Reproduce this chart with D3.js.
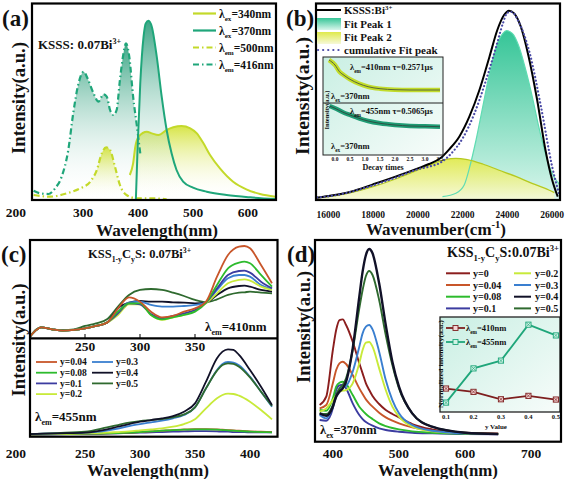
<!DOCTYPE html>
<html><head><meta charset="utf-8">
<script src="https://cdn.jsdelivr.net/npm/d3@7/dist/d3.min.js"></script>
<style>
body{margin:0;background:#fff;}
svg text{font-family:"Liberation Serif","Times New Roman",serif;font-weight:bold;fill:#111;}
</style></head><body>
<svg id="fig" width="567" height="479"></svg>
<script>
// ---------------- data: panel (a) ----------------
const aTicks=[200,300,400,500,600];
const aEx340Nm=[385,391,395,401,416,425,437,452,464,479,495,507,519,531,549,573,597,622,650];
const aEx340I=[75,110,160,190,205,200,195,210,218,222,215,200,170,135,95,55,32,18,10];
const aEx370Nm=[396,399,404,410,414,419,425,434,443,452,461,470,482,500,525,561,604,651];
const aEx370I=[0,150,350,490,530,538,520,430,310,210,140,90,55,37,25,15,8,3];
const aEm500Nm=[210,240,270,295,313,325,334,342,349,358,367,379,398,428,452];
const aEm500I=[15,10,20,35,55,90,140,158,150,100,45,15,5,5,2];
const aEm416Nm=[210,222,237,249,261,273,282,291,301,308,319,328,337,343,349,355,361,367,373,378,384,391,398,404];
const aEm416I=[28,20,18,35,70,150,260,345,385,365,320,295,317,310,270,255,270,360,435,470,430,310,220,140];
const aLegend=[["ex","340nm"],["ex","370nm"],["em","500nm"],["em","416nm"]];

// ---------------- data: panel (b) ----------------
const bTicks=[16000,18000,20000,22000,24000,26000];
const bExpWn=[15500,16000,17000,18000,19000,20000,20500,21000,21400,21850,22300,22750,23200,23550,23850,24070,24300,24600,24950,25330,25700,26000,26250];
const bExpI=[7,12,25,47,70,95,108,125,152,190,250,330,430,510,555,568,560,520,430,300,150,60,10];
const bFit1Wn=[21100,21700,22070,22300,22600,22900,23200,23500,23800,23960,24220,24520,24820,25110,25400,25700,26000,26350];
const bFit1I=[10,20,45,95,180,280,380,460,500,508,500,460,390,310,220,140,80,45];
const bFit2Wn=[15500,16000,17000,18000,19000,20000,20700,21250,21700,22150,22900,23600,24400,25100,25850,26100];
const bFit2I=[8,10,22,40,63,90,110,122,125,122,108,90,70,50,30,22];
const bCumWn=[15500,16000,17000,18000,19000,20000,20500,21000,21500,22000,22500,23000,23500,23800,24000,24200,24500,25000,25500,26000,26300];
const bCumI=[8,11,24,44,67,92,100,112,140,185,255,350,460,530,562,564,535,440,280,100,20];
const bLegend=["KSSS:Bi","Fit Peak 1","Fit Peak 2","cumulative Fit peak"];
// inset decay
const bInsetTicks=[0,0.5,1,1.5,2,2.5,3,3.5];
const bDecT1=[-0.2,0,0.15,0.3,0.5,0.8,1.1,1.5,2.0,2.5,3.0,3.5];
const bDec410=[43,38,31.3,27.7,23.7,19.3,16.3,14.3,13.3,13,13,13];
const bDecT2=[-0.18,0,0.3,0.5,0.8,1.1,1.5,2.0,2.5,3.0,3.5];
const bDec455=[49,46.7,42.3,40,36.7,34,31.7,30,29,28.7,28.3];

// ---------------- data: panel (c) ----------------
const cTicks=[200,250,300,350,400];
const cTopTicks=[250,300,350];
const cTopNm=[200,205,210,220,230,240,250,260,270,280,290,300,310,320,330,340,350,360,370,380,390,395,400,410,420];
const cTop004=[5,23,33,27,23,25,30,37,47,90,123,110,80,63,67,80,90,110,185,250,275,277,270,220,165];
const cTop008=[5,23,33,27,23,25,30,37,47,80,105,105,70,57,63,70,80,107,160,210,227,230,225,190,155];
const cTop01 =[5,23,33,27,23,25,30,37,47,75,105,102,73,60,67,75,85,107,150,190,202,203,197,170,150];
const cTop02 =[5,23,33,27,23,25,30,37,47,70,102,102,70,55,63,70,83,105,135,165,175,177,173,155,145];
const cTop03 =[5,23,33,27,23,25,30,37,47,80,107,110,100,95,95,97,100,107,145,180,190,190,185,160,147];
const cTop04 =[5,23,33,27,23,25,30,37,47,90,107,112,110,110,108,107,105,107,130,150,157,158,155,145,140];
const cTop05 =[5,25,33,27,25,27,37,45,57,95,130,145,148,145,137,127,115,108,117,130,137,138,140,137,135];
const cBotNm=[200,225,250,270,280,290,300,310,320,330,340,350,360,370,375,380,385,390,400,410,420];
const cBot004=[7,8,9,10,11,12,14,16,18,20,22,23,23,22,21,20,19,18,16,15,14];
const cBot008=[7,8,9,10,11,12,14,16,18,20,21,22,22,21,20,19,18,17,15,14,13];
const cBot01 =[6,7,8,9,10,11,12,13,14,15,16,17,17,16,15,15,14,14,13,13,13];
const cBot02 =[7,8,10,12,14,16,19,22,25,30,38,52,85,115,125,129,128,123,105,80,52];
const cBot03 =[8,10,12,18,24,32,38,43,48,55,65,88,145,200,218,224,222,214,180,135,90];
const cBot04 =[8,10,12,22,30,38,45,50,55,62,75,100,165,235,255,262,260,245,200,150,95];
const cBot05 =[8,11,15,28,35,42,47,50,53,58,67,88,145,198,215,220,218,210,178,135,92];
const cLegend=["0.04","0.08","0.1","0.2","0.3","0.4","0.5"];

// ---------------- data: panel (d) ----------------
const dTicks=[400,500,600,700];
const dNm=[380,390,400,405,410,415,420,430,440,445,450,455,460,470,480,490,500,520,550,600,650];
const dY0  =[110,135,275,335,365,367,350,300,235,205,175,155,137,113,95,83,73,53,37,27,24];
const dY004=[100,110,175,215,235,240,233,200,160,143,127,115,105,87,73,63,55,43,33,26,24];
const dY008=[95,93,130,165,177,180,173,140,105,93,83,75,68,55,47,41,37,31,27,24,23];
const dY01 =[65,63,100,155,169,171,160,115,80,68,59,53,48,40,35,32,30,27,25,23,22];
const dY02 =[90,100,125,140,150,153,155,175,235,275,297,299,285,220,155,105,75,45,31,25,23];
const dY03 =[80,70,105,135,155,163,167,210,285,325,345,350,337,270,185,125,85,50,33,25,23];
const dY04 =[85,78,105,135,150,160,180,280,435,510,560,578,565,475,350,240,165,85,45,27,23];
const dY05 =[85,83,110,140,160,170,190,275,400,455,497,512,500,425,320,230,160,85,45,27,23];
const dLegend=["0","0.04","0.08","0.1","0.2","0.3","0.4","0.5"];
const dInsetY=[0.1,0.2,0.3,0.4,0.5];
const dInset410=[0.247,0.212,0.134,0.170,0.131];
const dInset455=[0.099,0.459,0.541,0.919,0.806];

// ---------------- colours ----------------
const TEAL="#1fa67a", YEL="#c3d92a";
const SC={"0":"#8b1e1e","0.04":"#c8562a","0.08":"#2dbb2d","0.1":"#3c3ca0","0.2":"#c8ea3a","0.3":"#3a7fd0","0.4":"#111128","0.5":"#2f6a2f"};

// ---------------- helpers ----------------
const svg=d3.select('#fig');
const defs=svg.append('defs');
const P=(xs,ys)=>xs.map((x,i)=>[x,ys[i]]);
function grad(id,stops,x2=0,y2=1){const g=defs.append('linearGradient').attr('id',id).attr('x1',0).attr('y1',0).attr('x2',x2).attr('y2',y2);stops.forEach(s=>g.append('stop').attr('offset',s[0]).attr('stop-color',s[1]).attr('stop-opacity',s[2]===undefined?1:s[2]));}
function clip(id,x,y,w,h){defs.append('clipPath').attr('id',id).append('rect').attr('x',x).attr('y',y).attr('width',w).attr('height',h);}
function rich(g,x,y,parts,size,anchor){
  const t=g.append('text').attr('x',x).attr('y',y).attr('font-size',size).attr('text-anchor',anchor||'start');
  let off=0;
  parts.forEach(p=>{
    const s=Array.isArray(p)?p[0]:p, m=Array.isArray(p)?p[1]:'n';
    const target=m==='sub'?size*0.32:(m==='sup'?-size*0.4:0);
    t.append('tspan').text(s).attr('dy',(target-off).toFixed(2)).attr('font-size',m==='n'?size:size*0.62);
    off=target;
  });
  return t;
}
function ytitle(x,y,len,size){svg.append('text').attr('transform',`translate(${x},${y}) rotate(-90)`).attr('text-anchor','middle').attr('font-size',size).attr('textLength',len).attr('lengthAdjust','spacingAndGlyphs').text('Intensity(a.u.)');}
function xtitle(x,y,len,size){svg.append('text').attr('x',x).attr('y',y).attr('text-anchor','middle').attr('font-size',size).attr('textLength',len).attr('lengthAdjust','spacingAndGlyphs').text('Wavelength(nm)');}
function frame(x,y,w,h){svg.append('rect').attr('x',x).attr('y',y).attr('width',w).attr('height',h).attr('fill','none').attr('stroke','#000').attr('stroke-width',2.2);}
function ticksLbl(ticks,xs,y,size,firstLeft){
  ticks.forEach((t,i)=>{
    const txt=svg.append('text').attr('y',y).attr('font-size',size).text(t);
    if(i===0&&firstLeft!==undefined){txt.attr('x',firstLeft).attr('text-anchor','end');}
    else txt.attr('x',xs(t)).attr('text-anchor','middle');
  });
}

grad('gTeal',[['0%','#1a9670',0.85],['100%','#ffffff',0]]);
grad('gYel',[['0%','#d0e028',0.85],['100%','#ffffff',0]]);
grad('gTealB',[['0%','#35c597',1],['100%','#d9f6ec',1]]);
grad('gYelB',[['0%','#dfe94a',1],['100%','#f6f9d8',1]]);
grad('gMint',[['0%','#c9efe3',1],['100%','#f7fcfa',1]],1,1);

// =================== PANEL (a) ===================
{
const xA=d3.scaleLinear([207,651],[32,276]);
const yA=d3.scaleLinear([0,588],[200,4]);
clip('clipA',32,4,244,196);
const pa=svg.append('g').attr('clip-path','url(#clipA)');
const area=d3.area().x(d=>xA(d[0])).y0(yA(0)).y1(d=>yA(d[1])).curve(d3.curveMonotoneX);
const line=d3.line().x(d=>xA(d[0])).y(d=>yA(d[1])).curve(d3.curveMonotoneX);
pa.append('path').attr('d',area(P(aEm416Nm,aEm416I))).attr('fill','url(#gTeal)');
pa.append('path').attr('d',area(P(aEm500Nm,aEm500I))).attr('fill','url(#gYel)');
pa.append('path').attr('d',area(P(aEx340Nm,aEx340I))).attr('fill','url(#gYel)');
pa.append('path').attr('d',area(P(aEx370Nm,aEx370I))).attr('fill','url(#gTeal)');
pa.append('path').attr('d',line(P(aEm416Nm,aEm416I))).attr('fill','none').attr('stroke',TEAL).attr('stroke-width',2.2).attr('stroke-dasharray','6,3,1.5,3');
pa.append('path').attr('d',line(P(aEm500Nm,aEm500I))).attr('fill','none').attr('stroke',YEL).attr('stroke-width',2.2).attr('stroke-dasharray','6,3,1.5,3');
pa.append('path').attr('d',line(P(aEx340Nm,aEx340I))).attr('fill','none').attr('stroke',YEL).attr('stroke-width',2);
pa.append('path').attr('d',line(P(aEx370Nm,aEx370I))).attr('fill','none').attr('stroke',TEAL).attr('stroke-width',2);
frame(32,3.5,244,196.5);
ticksLbl(aTicks,xA,217,13.5,26);
xtitle(157,236,122,17);
ytitle(25,98,112,18);
svg.append('text').attr('x',2).attr('y',26).attr('font-size',23).text('(a)');
rich(svg,38,49,['KSSS: 0.07Bi',['3+','sup']],13);
const lg=svg.append('g');
aLegend.forEach((d,i)=>{
  const y=13.5+i*17;
  lg.append('line').attr('x1',193).attr('x2',216).attr('y1',y).attr('y2',y).attr('stroke',i%2?TEAL:YEL).attr('stroke-width',2.2).attr('stroke-dasharray',i<2?null:'6,3,1.5,3');
  rich(lg,219,y+4,['λ',[d[0],'sub'],'='+d[1]],11.5);
});
}

// =================== PANEL (b) ===================
{
const xB=d3.scaleLinear([15450,26350],[316,560]);
const yB=d3.scaleLinear([0,588],[200,4]);
clip('clipB',316,4,244,196);
const pb=svg.append('g').attr('clip-path','url(#clipB)');
const area=d3.area().x(d=>xB(d[0])).y0(yB(0)).y1(d=>yB(d[1])).curve(d3.curveMonotoneX);
const line=d3.line().x(d=>xB(d[0])).y(d=>yB(d[1])).curve(d3.curveMonotoneX);
pb.append('path').attr('d',area(P(bFit1Wn,bFit1I))).attr('fill','url(#gTealB)');
pb.append('path').attr('d',area(P(bFit2Wn,bFit2I))).attr('fill','url(#gYelB)').attr('opacity',0.92);
pb.append('path').attr('d',line(P(bFit1Wn,bFit1I))).attr('fill','none').attr('stroke','#5fdcb2').attr('stroke-width',1.2);
pb.append('path').attr('d',line(P(bFit2Wn,bFit2I))).attr('fill','none').attr('stroke','#b5c91f').attr('stroke-width',1.3);
pb.append('path').attr('d',line(P(bExpWn,bExpI))).attr('fill','none').attr('stroke','#000').attr('stroke-width',2);
pb.append('path').attr('d',line(P(bCumWn,bCumI))).attr('fill','none').attr('stroke','#4a4aa6').attr('stroke-width',2.2).attr('stroke-linecap','round').attr('stroke-dasharray','0.1,3.6');
frame(316,3.5,244,196.5);
ticksLbl(bTicks,xB,218,9.5);
rich(svg,436,235,['Wavenumber',['(cm','n'],['-1','sup'],[')','n']],17,'middle');
ytitle(309,96,118,18);
svg.append('text').attr('x',286).attr('y',26).attr('font-size',23).text('(b)');
// legend
const lg=svg.append('g');
lg.append('line').attr('x1',317).attr('x2',341).attr('y1',10).attr('y2',10).attr('stroke','#000').attr('stroke-width',2);
rich(lg,344,14,['KSSS:Bi',['3+','sup']],11);
lg.append('rect').attr('x',317).attr('y',18).attr('width',24).attr('height',12).attr('fill','url(#gTealB)');
lg.append('text').attr('x',344).attr('y',28).attr('font-size',11).text(bLegend[1]);
lg.append('rect').attr('x',317).attr('y',32).attr('width',24).attr('height',12).attr('fill','url(#gYelB)');
lg.append('text').attr('x',344).attr('y',41).attr('font-size',11).text(bLegend[2]);
lg.append('line').attr('x1',318).attr('x2',341).attr('y1',50).attr('y2',50).attr('stroke','#4a4aa6').attr('stroke-width',2.2).attr('stroke-linecap','round').attr('stroke-dasharray','0.1,5');
lg.append('text').attr('x',344).attr('y',54).attr('font-size',11).text(bLegend[3]);
// inset
const xI=d3.scaleLinear([-0.4,3.6],[323,443]);
const yI1=d3.scaleLinear([0,46],[103,57]);
const yI2=d3.scaleLinear([0,52],[155,103]);
svg.append('rect').attr('x',323).attr('y',57).attr('width',120).attr('height',98).attr('fill','url(#gMint)');
clip('clipBI',323,57,120,98);
const pi=svg.append('g').attr('clip-path','url(#clipBI)');
const l1=d3.line().x(d=>xI(d[0])).y(d=>yI1(d[1])).curve(d3.curveMonotoneX);
const l2=d3.line().x(d=>xI(d[0])).y(d=>yI2(d[1])).curve(d3.curveMonotoneX);
pi.append('path').attr('d',l1(P(bDecT1,bDec410))).attr('fill','none').attr('stroke','#c2dc2a').attr('stroke-width',4.5);
pi.append('path').attr('d',l1(P(bDecT1,bDec410))).attr('fill','none').attr('stroke','#4e5a3a').attr('stroke-width',0.9);
pi.append('path').attr('d',l2(P(bDecT2,bDec455))).attr('fill','none').attr('stroke','#1f9c74').attr('stroke-width',4.5);
pi.append('path').attr('d',l2(P(bDecT2,bDec455))).attr('fill','none').attr('stroke','#2e4a40').attr('stroke-width',0.9);
svg.append('rect').attr('x',323).attr('y',57).attr('width',120).attr('height',98).attr('fill','none').attr('stroke','#222').attr('stroke-width',1);
svg.append('line').attr('x1',323).attr('x2',443).attr('y1',103).attr('y2',103).attr('stroke','#222').attr('stroke-width',1);
bInsetTicks.forEach(t=>svg.append('text').attr('x',xI(t)).attr('y',161).attr('font-size',5.5).attr('text-anchor','middle').text(t.toFixed(1)));
svg.append('text').attr('x',383).attr('y',169.5).attr('font-size',8).attr('text-anchor','middle').text('Decay times');
svg.append('text').attr('transform','translate(329,110) rotate(-90)').attr('text-anchor','middle').attr('font-size',6.5).text('Intensity(a.u.)');
rich(svg,350,70,['λ',['em','sub'],'=410nm τ=0.2571μs'],8.5);
rich(svg,331,99,['λ',['ex','sub'],'=370nm'],8.5);
rich(svg,350,114,['λ',['em','sub'],'=455nm τ=0.5065μs'],8.5);
rich(svg,331,149,['λ',['ex','sub'],'=370nm'],8.5);
}

// =================== PANEL (c) ===================
{
const xC=d3.scaleLinear([200,425],[30,277.5]);
const yT=d3.scaleLinear([0,295],[338.3,240]);
const yBt=d3.scaleLinear([0,295],[436.7,338.3]);
clip('clipCT',30,240,247.5,98.3);
clip('clipCB',30,338.3,247.5,98.4);
const pt=svg.append('g').attr('clip-path','url(#clipCT)');
const pbm=svg.append('g').attr('clip-path','url(#clipCB)');
const lt=d3.line().x(d=>xC(d[0])).y(d=>yT(d[1])).curve(d3.curveMonotoneX);
const lb=d3.line().x(d=>xC(d[0])).y(d=>yBt(d[1])).curve(d3.curveMonotoneX);
const topS=[["0.5",cTop05],["0.4",cTop04],["0.3",cTop03],["0.2",cTop02],["0.1",cTop01],["0.08",cTop008],["0.04",cTop004]];
topS.forEach(s=>pt.append('path').attr('d',lt(P(cTopNm,s[1]))).attr('fill','none').attr('stroke',SC[s[0]]).attr('stroke-width',1.8));
const botS=[["0.1",cBot01],["0.04",cBot004],["0.08",cBot008],["0.2",cBot02],["0.3",cBot03],["0.5",cBot05],["0.4",cBot04]];
botS.forEach(s=>pbm.append('path').attr('d',lb(P(cBotNm,s[1]))).attr('fill','none').attr('stroke',SC[s[0]]).attr('stroke-width',1.8));
frame(30,240,247.5,196.7);
svg.append('line').attr('x1',30).attr('x2',277.5).attr('y1',338.3).attr('y2',338.3).attr('stroke','#000').attr('stroke-width',2.2);
cTopTicks.forEach(t=>{
  svg.append('line').attr('x1',xC(t)).attr('x2',xC(t)).attr('y1',338).attr('y2',334).attr('stroke','#000').attr('stroke-width',1);
  svg.append('text').attr('x',xC(t)).attr('y',351).attr('font-size',13.5).attr('text-anchor','middle').text(t);
});
ticksLbl(cTicks,xC,457.5,13.5,26);
xtitle(148,475.5,122,16.5);
ytitle(25,340,113,18);
svg.append('text').attr('x',1).attr('y',262).attr('font-size',23).text('(c)');
rich(svg,88,258,['KSS',['1-y','sub'],'C',['y','sub'],'S: 0.07Bi',['3+','sup']],12.5);
rich(svg,205,331,['λ',['em','sub'],'=410nm'],13);
rich(svg,35,421,['λ',['em','sub'],'=455nm'],13);
const lg=svg.append('g');
cLegend.forEach((d,i)=>{
  const col=i<4?0:1, row=i<4?i:i-4;
  const y=362+row*10.7, x0=col?92:36;
  lg.append('line').attr('x1',x0).attr('x2',x0+21).attr('y1',y).attr('y2',y).attr('stroke',SC[d]).attr('stroke-width',1.8);
  lg.append('text').attr('x',x0+24).attr('y',y+3.3).attr('font-size',9.5).text('y='+d);
});
}

// =================== PANEL (d) ===================
{
const xD=d3.scaleLinear([373,745],[315,561]);
const yD=d3.scaleLinear([0,605],[441.7,240]);
clip('clipD',315,240,246,201.7);
const pd=svg.append('g').attr('clip-path','url(#clipD)');
const line=d3.line().x(d=>xD(d[0])).y(d=>yD(d[1])).curve(d3.curveMonotoneX);
const series=[["0.1",dY01],["0.08",dY008],["0.04",dY004],["0",dY0],["0.2",dY02],["0.3",dY03],["0.5",dY05],["0.4",dY04]];
series.forEach(s=>pd.append('path').attr('d',line(P(dNm,s[1]))).attr('fill','none').attr('stroke',SC[s[0]]).attr('stroke-width',s[0]==="0.4"?2.4:1.9));
// inset
const xI=d3.scaleLinear([0.078,0.515],[440,560]);
const yI=d3.scaleLinear([0,1],[412,317]);
svg.append('rect').attr('x',440).attr('y',317).attr('width',120).attr('height',95).attr('fill','url(#gMint)').attr('stroke','#222').attr('stroke-width',1.3);
const il=d3.line().x(d=>xI(d[0])).y(d=>yI(d[1]));
const mk=(g,data,col,fill)=>{
  g.append('path').attr('d',il(data)).attr('fill','none').attr('stroke',col).attr('stroke-width',1.8);
  data.forEach(d=>{
    const cx=xI(d[0]),cy=yI(d[1]);
    g.append('rect').attr('x',cx-2.6).attr('y',cy-2.6).attr('width',5.2).attr('height',5.2).attr('fill',fill).attr('stroke',col).attr('stroke-width',0.9);
    g.append('path').attr('d',`M${cx-2},${cy-2}L${cx+2},${cy+2}M${cx-2},${cy+2}L${cx+2},${cy-2}`).attr('stroke',col).attr('stroke-width',0.7);
  });
};
const gi=svg.append('g');
mk(gi,P(dInsetY,dInset410),'#7e1f1f','#f3d6d6');
mk(gi,P(dInsetY,dInset455),'#1fa67a','#d2f3e6');
// inset legend
[[328,'#7e1f1f','#f3d6d6','410nm'],[342,'#1fa67a','#d2f3e6','455nm']].forEach(r=>{
  const y=r[0];
  gi.append('line').attr('x1',446).attr('x2',465).attr('y1',y).attr('y2',y).attr('stroke',r[1]).attr('stroke-width',1.8);
  gi.append('rect').attr('x',453).attr('y',y-2.5).attr('width',5).attr('height',5).attr('fill',r[2]).attr('stroke',r[1]).attr('stroke-width',0.9);
  rich(gi,466,y+3,['λ',['em','sub'],'='+r[3]],8.5);
});
dInsetY.forEach(t=>svg.append('text').attr('x',xI(t)).attr('y',419).attr('font-size',6.5).attr('text-anchor','middle').text(t.toFixed(1)));
svg.append('text').attr('x',496).attr('y',428.5).attr('font-size',7).attr('text-anchor','middle').text('y Value');
svg.append('text').attr('transform','translate(443,364) rotate(-90)').attr('text-anchor','middle').attr('font-size',5.5).attr('textLength',88).attr('lengthAdjust','spacingAndGlyphs').text('Normalized intensity(a.u.)');
frame(315,240,246,201.7);
ticksLbl(dTicks,xD,457.5,13.5);
xtitle(438,475.5,120,16.5);
ytitle(310,327,112,18);
svg.append('text').attr('x',287).attr('y',262).attr('font-size',23).text('(d)');
rich(svg,559,257,['KSS',['1-y','sub'],'C',['y','sub'],'S:0.07Bi',['3+','sup']],14,'end');
rich(svg,320,434,['λ',['ex','sub'],'=370nm'],12.5);
const lg=svg.append('g');
dLegend.forEach((d,i)=>{
  const col=i<4?0:1, row=i%4;
  const y=273.3+row*11.7, x0=col?514:446;
  lg.append('line').attr('x1',x0).attr('x2',x0+(col?17:24)).attr('y1',y).attr('y2',y).attr('stroke',SC[d]).attr('stroke-width',2);
  lg.append('text').attr('x',x0+(col?21:27)).attr('y',y+3.5).attr('font-size',10).text('y='+d);
});
}
</script></body></html>
